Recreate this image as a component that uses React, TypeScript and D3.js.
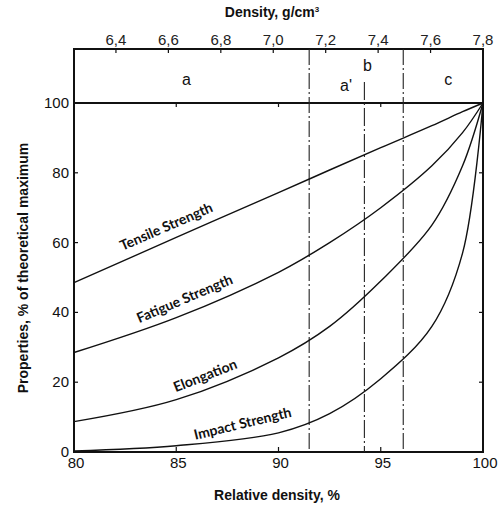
import * as d3 from 'd3'

const W = 503, H = 511
const margin = { top: 49, right: 20, bottom: 59, left: 74 }

// relative density, % (shared x for every curve)
const relDensity = [80, 85, 90, 92.5, 95, 97.5, 99, 100]
const tensile = [48.5, 61.5, 74.3, 80.8, 87.2, 93.5, 97.5, 100]
const fatigue = [28.5, 38.5, 51.5, 60, 70, 82, 91.5, 100]
const elongation = [8.7, 15, 27, 36, 49, 65, 82, 100]
const impact = [0.3, 1.8, 5.5, 11, 21, 36, 57, 100]

const seriesNames = ['Tensile Strength', 'Fatigue Strength', 'Elongation', 'Impact Strength']
const seriesValues = [tensile, fatigue, elongation, impact]
// where each curve label sits (x in rel. density) and its tilt
const labelAt = [84.6, 85.5, 86.5, 88.3]
const labelAngle = [-23.5, -23, -21.5, -13.5]

const xTicks = [80, 85, 90, 95, 100]
const yTicks = [0, 20, 40, 60, 80, 100]
const densityTicks = [6.4, 6.6, 6.8, 7.0, 7.2, 7.4, 7.6, 7.8]
const fullDensity = 7.8

// region borders a | a' | b | c
const borders = [91.5, 94.2, 96.1]
const regionNames = ['a', "a'", 'b', 'c']
const regionAt = [85.5, 93.3, 94.35, 98.3]

export default function App() {
  const x = d3.scaleLinear().domain([80, 100]).range([margin.left, W - margin.right])
  const y = d3.scaleLinear().domain([0, 100]).range([H - margin.bottom, 103])
  const top = margin.top
  const bottom = y(0)

  const line = d3.line<[number, number]>()
    .x(d => x(d[0]))
    .y(d => y(d[1]))
    .curve(d3.curveCatmullRom.alpha(0.5))

  const numFont = '"Liberation Sans", Arial, sans-serif'

  // offset of the curve labels above their lines
  const labelOffset = [10, 10, 7, 9]

  return (
    <svg width={W} height={H} style={{ position: 'absolute', left: 0, top: 0, background: '#fff' }}>
      {/* frame */}
      <rect x={x(80)} y={top} width={x(100) - x(80)} height={bottom - top}
        fill='none' stroke='#111' strokeWidth={2} />
      <line x1={x(80)} x2={x(100)} y1={y(100)} y2={y(100)} stroke='#111' strokeWidth={2} />

      {/* region borders */}
      {borders.map((b, i) => (
        <line key={b} x1={x(b)} x2={x(b)} y1={i === 1 ? 82 : top} y2={bottom}
          stroke='#222' strokeWidth={1.1} strokeDasharray={i === 1 ? '18,3,2,3' : '16,3,2,3'} />
      ))}
      {regionNames.map((r, i) => (
        <text key={r} x={x(regionAt[i])} y={i === 2 ? 71 : (i === 1 ? 91 : 85)} textAnchor='middle'
          fontFamily={numFont} fontSize={16} fill='#111'>{r}</text>
      ))}

      {/* left and right ticks */}
      {yTicks.filter(t => t > 0 && t < 100).map(t => (
        <g key={t}>
          <line x1={x(80)} x2={x(80) + 4} y1={y(t)} y2={y(t)} stroke='#111' strokeWidth={1.2} />
          <line x1={x(100)} x2={x(100) - 4} y1={y(t)} y2={y(t)} stroke='#111' strokeWidth={1.2} />
        </g>
      ))}
      {/* bottom ticks and ticks under the 100 line */}
      {xTicks.filter(t => t > 80 && t < 100).map(t => (
        <g key={t}>
          <line x1={x(t)} x2={x(t)} y1={bottom} y2={bottom - 5} stroke='#111' strokeWidth={1.2} />
          <line x1={x(t)} x2={x(t)} y1={y(100)} y2={y(100) + 4} stroke='#111' strokeWidth={1.2} />
        </g>
      ))}
      {/* top density ticks */}
      {densityTicks.map(d => (
        <line key={d} x1={x(d / fullDensity * 100)} x2={x(d / fullDensity * 100)} y1={top} y2={top + 4}
          stroke='#111' strokeWidth={1.2} />
      ))}

      {/* curves */}
      {seriesValues.map((vals, i) => (
        <path key={seriesNames[i]} d={line(relDensity.map((r, j) => [r, vals[j]] as [number, number])) || ''}
          fill='none' stroke='#111' strokeWidth={1.4} />
      ))}

      {/* curve labels */}
      {seriesValues.map((vals, i) => {
        const r = labelAt[i]
        const v = d3.scaleLinear().domain(relDensity).range(vals)(r)
        const px = x(r), py = y(v) - labelOffset[i]
        return (
          <text key={i} transform={`translate(${px},${py}) rotate(${labelAngle[i]})`}
            textAnchor='middle' fontFamily='Lato, sans-serif' fontWeight={700} fontSize={14} fill='#111'>
            {seriesNames[i]}
          </text>
        )
      })}

      {/* y tick labels */}
      {yTicks.map(t => (
        <text key={t} x={x(80) - 5} y={y(t) + 5} textAnchor='end'
          fontFamily={numFont} fontSize={15} fill='#111'>{t}</text>
      ))}
      {/* x tick labels */}
      {xTicks.map(t => (
        <text key={t} x={x(t) + 2} y={468} textAnchor='middle'
          fontFamily={numFont} fontSize={15} fill='#111'>{t}</text>
      ))}
      {/* density labels */}
      {densityTicks.map(d => (
        <text key={d} x={x(d / fullDensity * 100)} y={45} textAnchor='middle'
          fontFamily={numFont} fontSize={15} fill='#222'>{d.toFixed(1).replace('.', ',')}</text>
      ))}

      {/* axis titles */}
      <text x={272} y={17} textAnchor='middle' fontFamily={numFont} fontWeight={700} fontSize={14} fill='#111'>
        Density, g/cm<tspan fontSize={8} dy={-5}>3</tspan>
      </text>
      <text x={277} y={500} textAnchor='middle' fontFamily={numFont} fontWeight={700} fontSize={14} fill='#111'>
        Relative density, %
      </text>
      <text transform={`translate(28,268) rotate(-90)`} textAnchor='middle'
        fontFamily={numFont} fontWeight={700} fontSize={14} fill='#111'>
        Properties, % of theoretical maximum
      </text>
    </svg>
  )
}
